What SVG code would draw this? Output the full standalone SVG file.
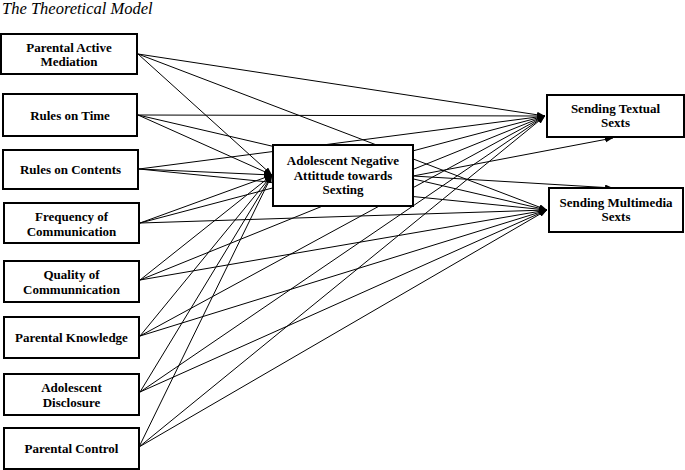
<svg xmlns="http://www.w3.org/2000/svg" width="685" height="470" viewBox="0 0 685 470">
<defs>
<marker id="arr" markerUnits="userSpaceOnUse" markerWidth="9" markerHeight="7" refX="8" refY="3" orient="auto">
<path d="M0,0 L8,3 L0,6 z" fill="#000"/>
</marker>
<style>
.box{fill:#fff;stroke:#000;stroke-width:2}
.lbl{font-family:"Liberation Serif","Times New Roman",serif;font-weight:bold;font-size:13px;fill:#000;text-anchor:middle}
.title{font-family:"Liberation Serif","Times New Roman",serif;font-style:italic;font-size:16.5px;fill:#000}
#connectors line{stroke:#000;stroke-width:1;marker-end:url(#arr)}
</style>
</defs>
<rect width="685" height="470" fill="#fff"/>
<text class="title" x="2" y="14">The Theoretical Model</text>
<g id="connectors">
<line x1="138" y1="54" x2="272" y2="175"/>
<line x1="138" y1="54" x2="545" y2="116"/>
<line x1="138" y1="54" x2="547" y2="210"/>
<line x1="138" y1="115" x2="272" y2="175"/>
<line x1="138" y1="115" x2="545" y2="116"/>
<line x1="138" y1="115" x2="547" y2="210"/>
<line x1="139" y1="169" x2="272" y2="175"/>
<line x1="139" y1="169" x2="545" y2="116"/>
<line x1="139" y1="169" x2="547" y2="210"/>
<line x1="140" y1="223" x2="272" y2="175"/>
<line x1="140" y1="223" x2="545" y2="116"/>
<line x1="140" y1="223" x2="547" y2="210"/>
<line x1="140" y1="280" x2="272" y2="175"/>
<line x1="140" y1="280" x2="545" y2="116"/>
<line x1="140" y1="280" x2="547" y2="210"/>
<line x1="140" y1="336" x2="272" y2="175"/>
<line x1="140" y1="336" x2="545" y2="116"/>
<line x1="140" y1="336" x2="547" y2="210"/>
<line x1="140" y1="392" x2="272" y2="175"/>
<line x1="140" y1="392" x2="545" y2="116"/>
<line x1="140" y1="392" x2="547" y2="210"/>
<line x1="139" y1="447" x2="272" y2="175"/>
<line x1="139" y1="447" x2="545" y2="116"/>
<line x1="139" y1="447" x2="547" y2="210"/>
<line x1="413" y1="176" x2="613" y2="138"/>
<line x1="413" y1="176" x2="613" y2="188"/>
</g>
<g id="node-mediator">
<rect class="box" x="273" y="145" width="140" height="61"/>
<text class="lbl" x="343" y="165">Adolescent Negative</text>
<text class="lbl" x="343" y="180">Attittude towards</text>
<text class="lbl" x="343" y="194">Sexting</text>
</g>
<g id="node-textual">
<rect class="box" x="547" y="95" width="137" height="42"/>
<text class="lbl" x="615.5" y="113">Sending Textual</text>
<text class="lbl" x="615.5" y="127">Sexts</text>
</g>
<g id="node-multimedia">
<rect class="box" x="549" y="188" width="134" height="44"/>
<text class="lbl" x="616" y="207">Sending Multimedia</text>
<text class="lbl" x="616" y="221">Sexts</text>
</g>
<g id="node-active-mediation">
<rect class="box" x="1" y="34" width="136" height="40"/>
<text class="lbl" x="69" y="52">Parental Active</text>
<text class="lbl" x="69" y="66">Mediation</text>
</g>
<g id="node-rules-time">
<rect class="box" x="3" y="94" width="134" height="42"/>
<text class="lbl" x="70" y="120">Rules on Time</text>
</g>
<g id="node-rules-contents">
<rect class="box" x="3" y="150" width="135" height="39"/>
<text class="lbl" x="70.5" y="174">Rules on Contents</text>
</g>
<g id="node-frequency">
<rect class="box" x="4" y="203" width="135" height="40"/>
<text class="lbl" x="71.5" y="221">Frequency of</text>
<text class="lbl" x="71.5" y="236">Communication</text>
</g>
<g id="node-quality">
<rect class="box" x="4" y="261" width="135" height="41"/>
<text class="lbl" x="71.5" y="279">Quality of</text>
<text class="lbl" x="71.5" y="294">Communnication</text>
</g>
<g id="node-knowledge">
<rect class="box" x="4" y="317" width="135" height="41"/>
<text class="lbl" x="71.5" y="342">Parental Knowledge</text>
</g>
<g id="node-disclosure">
<rect class="box" x="4" y="374" width="135" height="41"/>
<text class="lbl" x="71.5" y="392">Adolescent</text>
<text class="lbl" x="71.5" y="407">Disclosure</text>
</g>
<g id="node-control">
<rect class="box" x="4" y="428" width="135" height="41"/>
<text class="lbl" x="71.5" y="453">Parental Control</text>
</g>
</svg>
